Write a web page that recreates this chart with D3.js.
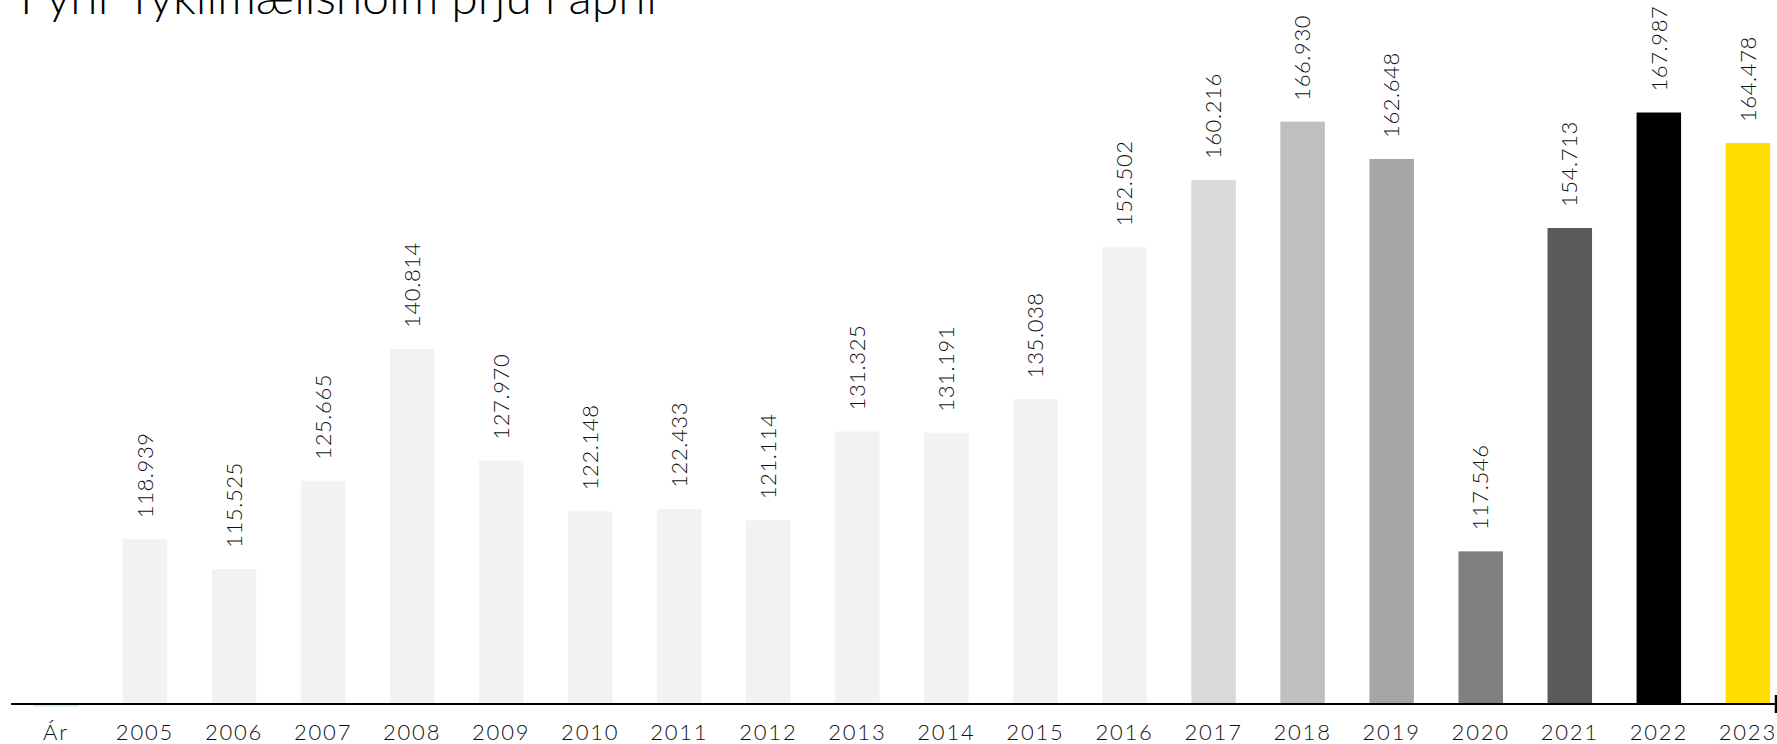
<!DOCTYPE html>
<html>
<head>
<meta charset="utf-8">
<script src="https://cdn.jsdelivr.net/npm/d3@7"></script>
<style>
  body { margin: 0; background: #fff; overflow: hidden; }
  svg { display: block; font-family: "Lato", "Open Sans", sans-serif; font-weight: 300; }
  .axis text { fill: #111; }
</style>
</head>
<body>
<svg id="chart"></svg>
<script>
const categories = ["Ár", "2005", "2006", "2007", "2008", "2009", "2010", "2011", "2012", "2013",
  "2014", "2015", "2016", "2017", "2018", "2019", "2020", "2021", "2022", "2023"];
const values = [99.8, 118.939, 115.525, 125.665, 140.814, 127.970, 122.148, 122.433, 121.114, 131.325,
  131.191, 135.038, 152.502, 160.216, 166.930, 162.648, 117.546, 154.713, 167.987, 164.478];
const labels = ["", "118.939", "115.525", "125.665", "140.814", "127.970", "122.148", "122.433", "121.114", "131.325",
  "131.191", "135.038", "152.502", "160.216", "166.930", "162.648", "117.546", "154.713", "167.987", "164.478"];
const colors = ["#d4ecf7", "#f2f2f2", "#f2f2f2", "#f2f2f2", "#f2f2f2", "#f2f2f2", "#f2f2f2", "#f2f2f2", "#f2f2f2", "#f2f2f2",
  "#f2f2f2", "#f2f2f2", "#f2f2f2", "#d9d9d9", "#bfbfbf", "#a6a6a6", "#808080", "#5a5a5a", "#000000", "#ffde00"];
const yDomain = [100, 180];
const title = "Fyrir Tyklimælishólm þrjú í apríl";

const w = 1777, h = 744;
const baseY = 704;

const svg = d3.select("#chart").attr("width", w).attr("height", h);

const data = categories.map((c, i) => ({ cat: c, value: values[i], label: labels[i], color: colors[i] }));

// band scale, the first slot ("Ár") holds the row header
const x = d3.scaleBand()
  .domain(categories)
  .range([11.4, 1792.4])
  .paddingInner(0.5)
  .paddingOuter(0.25);

const y = d3.scaleLinear()
  .domain(yDomain)
  .range([baseY, 8]);

// title, sits mostly above the visible area
svg.append("text")
  .attr("x", 20)
  .attr("y", 14)
  .attr("font-size", 48)
  .attr("fill", "#000")
  .text(title);

// bars
svg.append("g").selectAll("rect")
  .data(data)
  .enter().append("rect")
    .attr("x", d => x(d.cat))
    .attr("y", d => Math.min(y(d.value), y(yDomain[0])))
    .attr("width", x.bandwidth())
    .attr("height", d => Math.abs(y(yDomain[0]) - y(d.value)) + (d.value < yDomain[0] ? 1 : 0))
    .attr("fill", d => d.color);

// value labels, rotated
svg.append("g").selectAll("text")
  .data(data.filter(d => d.label))
  .enter().append("text")
    .attr("transform", d => "translate(" + (x(d.cat) + x.bandwidth() / 2) + "," + (y(d.value) - 21) + ") rotate(-90)")
    .attr("dy", "0.35em")
    .attr("font-size", 22)
    .attr("letter-spacing", 0.6)
    .attr("fill", "#111")
    .text(d => d.label);

// category axis
const xAxis = d3.axisBottom(x).tickSize(0).tickPadding(0);
const gx = svg.append("g")
  .attr("class", "axis")
  .attr("transform", "translate(0," + baseY + ")")
  .call(xAxis);
gx.select(".domain").remove();
gx.selectAll("text")
  .attr("y", 36)
  .attr("dy", 0)
  .attr("font-size", 22)
  .attr("letter-spacing", 1.8)
  .attr("font-family", "Lato, sans-serif")
  .attr("font-weight", 300);

// baseline with end tick
svg.append("line")
  .attr("x1", 11).attr("x2", 1776)
  .attr("y1", baseY).attr("y2", baseY)
  .attr("stroke", "#000").attr("stroke-width", 2);
svg.append("line")
  .attr("x1", 1776).attr("x2", 1776)
  .attr("y1", baseY - 9).attr("y2", baseY + 9)
  .attr("stroke", "#000").attr("stroke-width", 2.5);
</script>
</body>
</html>
